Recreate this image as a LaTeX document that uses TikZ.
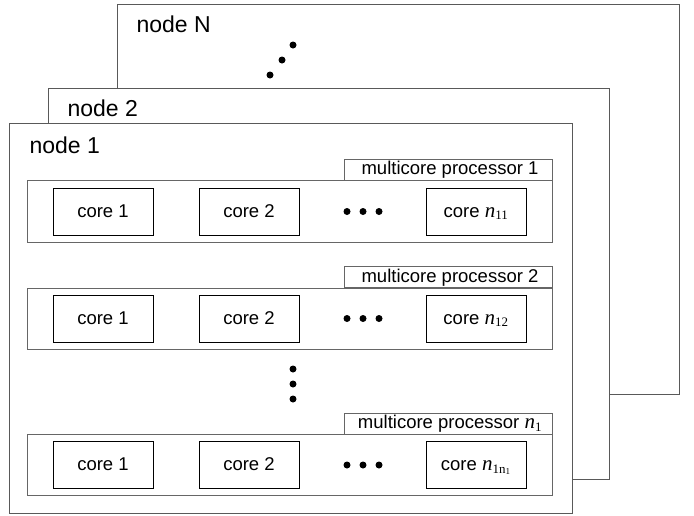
\documentclass[tikz,border=0pt]{standalone}
\usepackage{fontspec}
\setmainfont{Liberation Sans}
\newfontfamily\seriffont{Liberation Serif}
\usepackage{tikz}
\usetikzlibrary{calc}
\tikzset{>=latex}
\tikzset{
  nodebox/.style={draw=black!65, line width=0.9pt, fill=white},
  procbox/.style={draw=black!60, line width=0.9pt},
  corebox/.style={draw, line width=0.8pt, minimum width=100pt, minimum height=47pt, text height=13pt, text depth=2pt, font=\fontsize{18.5}{21}\selectfont},
  proclabel/.style={draw=black!60, line width=0.9pt, fill=white, minimum width=208pt, minimum height=21pt, text height=13pt, text depth=3pt, inner sep=0pt, font=\fontsize{18.5}{21}\selectfont},
  nodelabel/.style={anchor=west, font=\fontsize{23}{26}\selectfont},
  bigdot/.style={fill, circle, inner sep=0pt, minimum size=7pt}
}
\newcommand{\itn}{{\seriffont\itshape\fontsize{21}{24}\selectfont n}}

\begin{document}
\begin{tikzpicture}[x=1pt, y=-1pt]
    \useasboundingbox (0,0) rectangle (694,515);

    %node N
    \draw[nodebox] (117,4) rectangle (679,394);
    \node[nodelabel] (labN) at (133,24) {node N};
    \node[bigdot] (dN1) at (293,45) {};
    \node[bigdot] (dN2) at (282,60) {};
    \node[bigdot] (dN3) at (270,75) {};

    %node 2
    \draw[nodebox] (48,88) rectangle (609,479);
    \node[nodelabel] (lab2) at (64,108) {node 2};

    %node 1
    \draw[nodebox] (9,123) rectangle (572,513);
    \node[nodelabel] (lab1) at (26,145) {node 1};

    %processor 1
    \draw[procbox] (27,180) rectangle (552,242);
    \node[proclabel] (p1) at (448,169.5) {\hspace{4pt}multicore processor 1};
    \node[corebox] (c11) at (103,211.5) {core 1};
    \node[corebox] (c12) at (249,211.5) {core 2};
    \node[corebox] (c1n) at (476,211.5) {core \itn\textsubscript{\seriffont 11}};
    \foreach \x in {347,363,379} \node[bigdot] at (\x,211.5) {};

    %processor 2
    \draw[procbox] (27,288) rectangle (552,349);
    \node[proclabel] (p2) at (448,277) {\hspace{4pt}multicore processor 2};
    \node[corebox] (c21) at (103,318.5) {core 1};
    \node[corebox] (c22) at (249,318.5) {core 2};
    \node[corebox] (c2n) at (476,318.5) {core \itn\textsubscript{\seriffont 12}};
    \foreach \x in {347,363,379} \node[bigdot] at (\x,318.5) {};

    %more processors
    \foreach \y in {369,384,399} \node[bigdot] at (293,\y) {};

    %processor n1
    \draw[procbox] (27,434) rectangle (552,495);
    \node[proclabel] (p3) at (448,423.5) {\hspace{4pt}multicore processor \itn\textsubscript{\seriffont 1}};
    \node[corebox] (c31) at (103,465) {core 1};
    \node[corebox] (c32) at (249,465) {core 2};
    \node[corebox] (c3n) at (476,465) {core \itn\textsubscript{\seriffont 1n\textsubscript{1}}};
    \foreach \x in {347,363,379} \node[bigdot] at (\x,465) {};
\end{tikzpicture}
\end{document}
